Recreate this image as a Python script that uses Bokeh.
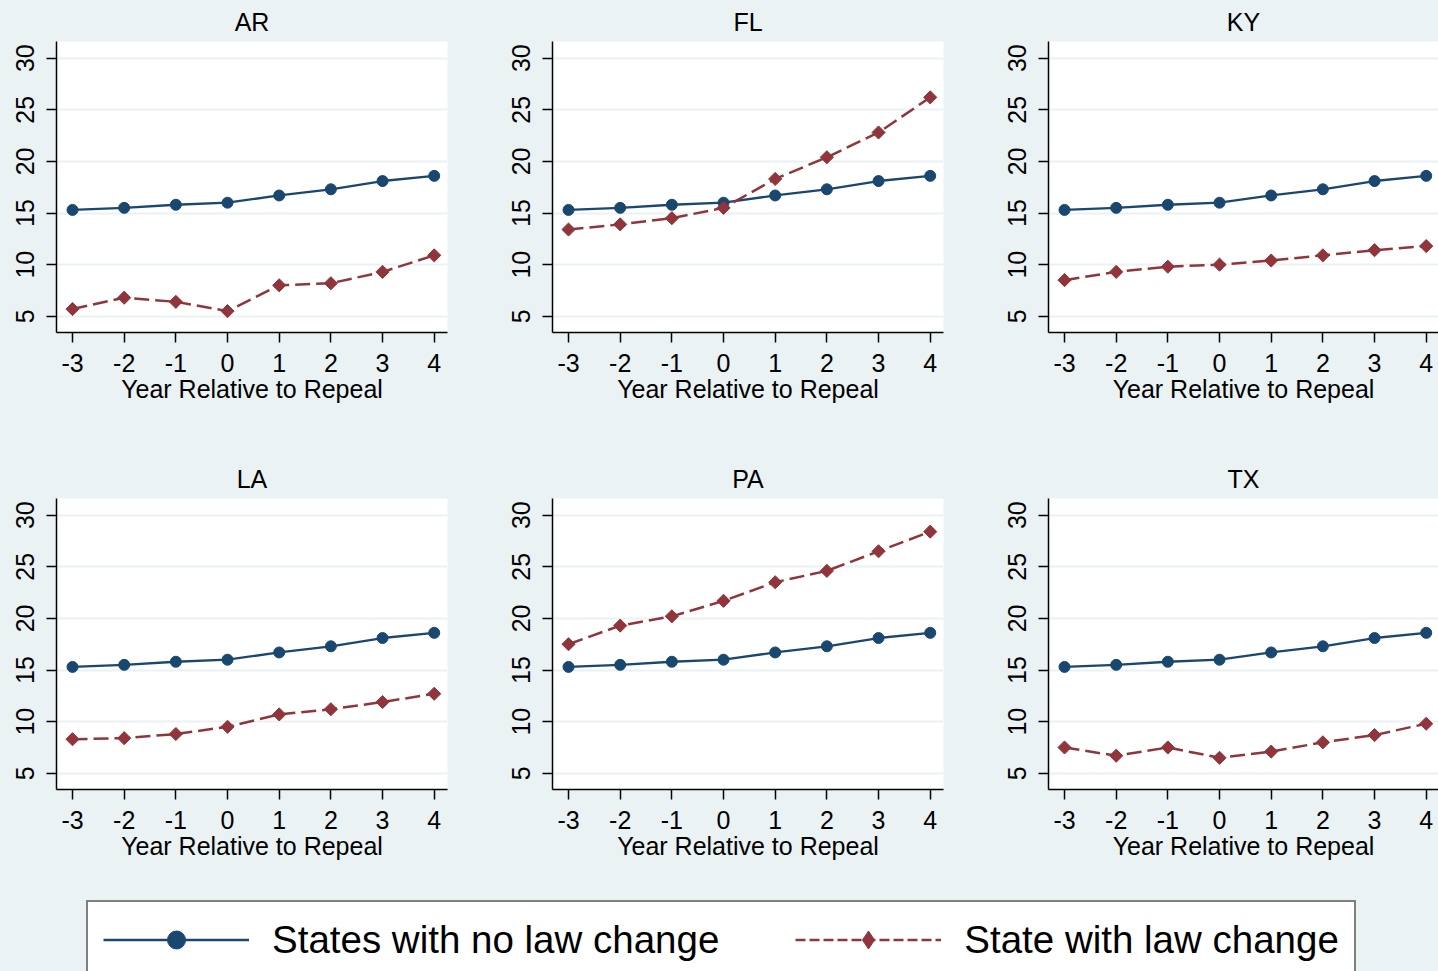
import math
from bokeh.plotting import figure
from bokeh.models import ColumnDataSource, FixedTicker, Range1d, Legend, LegendItem
from bokeh.layouts import row, column
from bokeh.embed import file_html
from bokeh.resources import INLINE

# ---------------- data ----------------
years = [-3, -2, -1, 0, 1, 2, 3, 4]
year_labels = ["-3", "-2", "-1", "0", "1", "2", "3", "4"]
states = ["AR", "FL", "KY", "LA", "PA", "TX"]
no_change = [15.3, 15.5, 15.8, 16.0, 16.7, 17.3, 18.1, 18.6]
law_ar = [5.7, 6.8, 6.4, 5.5, 8.0, 8.2, 9.3, 10.9]
law_fl = [13.4, 13.9, 14.5, 15.5, 18.3, 20.4, 22.8, 26.2]
law_ky = [8.5, 9.3, 9.8, 10.0, 10.4, 10.9, 11.4, 11.8]
law_la = [8.3, 8.4, 8.8, 9.5, 10.7, 11.2, 11.9, 12.7]
law_pa = [17.5, 19.3, 20.2, 21.7, 23.5, 24.6, 26.5, 28.4]
law_tx = [7.5, 6.7, 7.5, 6.5, 7.1, 8.0, 8.7, 9.8]
law_series = [law_ar, law_fl, law_ky, law_la, law_pa, law_tx]
y_ticks = [5, 10, 15, 20, 25, 30]
x_label = "Year Relative to Repeal"
legend_labels = ["States with no law change", "State with law change"]

# ---------------- style ----------------
BG = "#EAF2F3"
NAVY = "#1A476F"
MAROON = "#90353B"
FONT = "Liberation Sans"
FS = "25px"

col_widths = [496, 496, 446]
frame_ws = [391, 391, 390]
row_heights = [457, 433]
LEFT, TOP, FRAME_H = 56, 40, 292
PX_PER_UNIT = 51.67
X0 = -3.31


def make_panel(name, law, ci, ri):
    w = col_widths[ci]
    fw = frame_ws[ci]
    h = row_heights[ri]
    p = figure(width=w, height=h, output_backend="svg", toolbar_location=None,
               x_range=Range1d(X0, X0 + fw / PX_PER_UNIT),
               y_range=Range1d(3.43, 31.61),
               min_border_left=LEFT, min_border_right=w - LEFT - fw,
               min_border_top=TOP, min_border_bottom=h - TOP - FRAME_H,
               title=name)
    p.border_fill_color = BG
    p.background_fill_color = "white"
    p.outline_line_color = None

    p.title.align = "center"
    p.title.text_font = FONT
    p.title.text_font_size = FS
    p.title.text_font_style = "normal"
    p.title.text_color = "black"
    p.title.standoff = 11

    p.xgrid.visible = False
    p.ygrid.grid_line_color = BG
    p.ygrid.grid_line_width = 2
    p.ygrid.ticker = FixedTicker(ticks=y_ticks)

    for ax in (p.xaxis[0], p.yaxis[0]):
        ax.axis_line_color = "black"
        ax.axis_line_width = 1.5
        ax.major_tick_line_color = "black"
        ax.major_tick_line_width = 1.5
        ax.major_tick_out = 10
        ax.major_tick_in = 0
        ax.minor_tick_out = 0
        ax.minor_tick_in = 0
        ax.major_label_text_font = FONT
        ax.major_label_text_font_size = FS
        ax.major_label_text_color = "black"

    p.xaxis.ticker = FixedTicker(ticks=years)
    p.xaxis.major_label_overrides = {yv: lab for yv, lab in zip(years, year_labels)}
    p.xaxis.major_label_standoff = 11
    p.xaxis.axis_label = x_label
    p.xaxis.axis_label_text_font = FONT
    p.xaxis.axis_label_text_font_size = FS
    p.xaxis.axis_label_text_font_style = "normal"
    p.xaxis.axis_label_text_color = "black"
    p.xaxis.axis_label_standoff = 0

    p.yaxis.ticker = FixedTicker(ticks=y_ticks)
    p.yaxis.major_label_orientation = "vertical"
    p.yaxis.major_label_standoff = 12

    src = ColumnDataSource(dict(x=years, no=no_change, law=law))
    p.line("x", "no", source=src, line_color=NAVY, line_width=2.3)
    p.scatter("x", "no", source=src, marker="circle", size=11,
              fill_color=NAVY, line_color=NAVY)
    p.line("x", "law", source=src, line_color=MAROON, line_width=2.5,
           line_dash="15 6")
    p.scatter("x", "law", source=src, marker="square", angle=math.pi / 4,
              size=9.3, fill_color=MAROON, line_color=MAROON)
    return p


panels = [make_panel(s, law_series[i], i % 3, i // 3) for i, s in enumerate(states)]

# ---------------- legend strip ----------------
lf = figure(width=sum(col_widths), height=81, output_backend="svg",
            toolbar_location=None, x_axis_type=None, y_axis_type=None,
            x_range=Range1d(0, 1), y_range=Range1d(0, 1), min_border=0)
lf.border_fill_color = BG
lf.background_fill_color = BG
lf.outline_line_color = None
lf.grid.visible = False

nan_src = ColumnDataSource(dict(x=[float("nan")], y=[float("nan")]))
l1 = lf.line("x", "y", source=nan_src, line_color=NAVY, line_width=2.7)
m1 = lf.scatter("x", "y", source=nan_src, marker="circle",
                fill_color=NAVY, line_color=NAVY)
l2 = lf.line("x", "y", source=nan_src, line_color=MAROON, line_width=2.7,
             line_dash="10 4")
m2 = lf.scatter("x", "y", source=nan_src, marker="diamond",
                fill_color=MAROON, line_color=MAROON)

legend = Legend(
    items=[LegendItem(label=legend_labels[0], renderers=[l1, m1]),
           LegendItem(label=legend_labels[1], renderers=[l2, m2])],
    orientation="horizontal", location=(86, -8), margin=0,
    glyph_width=146, glyph_height=45, label_standoff=23, spacing=76,
    padding=15, border_line_color="black", border_line_width=2,
    background_fill_color="white", background_fill_alpha=1.0,
    label_text_font=FONT, label_text_font_size="38.5px",
    label_text_color="black", label_text_baseline="middle")
lf.add_layout(legend)

layout = column(row(*panels[:3]), row(*panels[3:]), lf)

html = file_html(layout, INLINE, title="Repeal event study")
html = html.replace("</head>", "<style>html, body { background: #EAF2F3; }</style></head>", 1)
open("out.html", "w").write(html)
